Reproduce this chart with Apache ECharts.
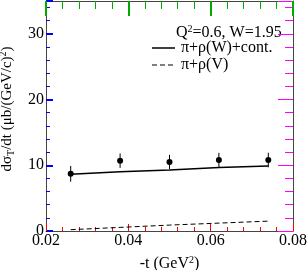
<!DOCTYPE html>
<html><head><meta charset="utf-8">
<script src="https://cdn.jsdelivr.net/npm/echarts@6/dist/echarts.min.js"></script>
<style>html,body{margin:0;padding:0;background:#fff}#c{width:307px;height:270px}</style>
</head><body><div id="c"></div>
<script>
const xTicks = [0.02, 0.04, 0.06, 0.08];
const yTicks = [0, 10, 20, 30];
const dataT = [0.026, 0.038, 0.050, 0.062, 0.074];
const dataY = [8.7, 10.7, 10.5, 10.8, 10.8];
const dataErr = [1.2, 1.1, 1.1, 1.1, 1.1];
const fullT = [0.026, 0.038, 0.050, 0.062, 0.074];
const fullY = [8.65, 9.0, 9.3, 9.65, 9.9];
const vecT = [0.026, 0.038, 0.050, 0.062, 0.074];
const vecY = [0.2, 0.55, 0.9, 1.2, 1.5];
const legendTitle = 'Q{s|2}=0.6, W=1.95';
const name1 = 'π+ρ(W)+cont.';
const name2 = 'π+ρ(V)';

const F = 'Liberation Serif';
const chart = echarts.init(document.getElementById('c'));
function axisCommon(c, L, w) {
  return {
    axisLine: {show: true, onZero: false, lineStyle: {color: '#444', width: 1}},
    axisTick: {show: true, inside: true, length: L, lineStyle: {color: c, width: w}},
    minorTick: {show: true, splitNumber: 5, length: Math.round(L / 2), lineStyle: {color: c, width: 1}},
    splitLine: {show: false}
  };
}
chart.setOption({
  grid: {left: 46, right: 14, top: 1, bottom: 39, outerBoundsMode: 'none'},
  xAxis: [
    Object.assign({type: 'value', min: xTicks[0], max: xTicks[3], interval: 0.02,
      axisLabel: {fontFamily: F, fontSize: 16, color: '#000', margin: 2},
      name: '-t (GeV{s|2})', nameLocation: 'middle', nameGap: 24,
      nameTextStyle: {fontFamily: F, fontSize: 16, color: '#000',
        rich: {s: {fontFamily: F, fontSize: 10, verticalAlign: 'top', padding: [0,0,8,0]}}}
    }, axisCommon('#f00', 7, 1)),
    Object.assign({type: 'value', min: xTicks[0], max: xTicks[3], interval: 0.02, position: 'top',
      axisLabel: {show: false}}, axisCommon('#0a0', 15, 2))
  ],
  yAxis: [
    Object.assign({type: 'value', min: 0, max: 35, interval: 10,
      axisLabel: {fontFamily: F, fontSize: 16, color: '#000', margin: 2, showMaxLabel: false},
      name: 'dσ{sub|T}/dt (μb/(GeV/c){s|2})', nameLocation: 'middle', nameGap: 30,
      nameTextStyle: {fontFamily: F, fontSize: 15, color: '#000', padding: [0, 0, 0, 14],
        rich: {sub: {fontFamily: F, fontSize: 10, verticalAlign: 'bottom', padding: [6,0,0,0]},
               s: {fontFamily: F, fontSize: 10, verticalAlign: 'top', padding: [0,0,8,0]}}}
    }, axisCommon('#00f', 7, 2)),
    Object.assign({type: 'value', min: 0, max: 35, interval: 10, position: 'right',
      axisLabel: {show: false}}, axisCommon('#f0f', 15, 1))
  ],
  series: [
    {type: 'line', name: name1, data: fullT.map((t, i) => [t, fullY[i]]), showSymbol: false,
      lineStyle: {color: '#000', width: 1.5}},
    {type: 'line', name: name2, data: vecT.map((t, i) => [t, vecY[i]]), showSymbol: false,
      lineStyle: {color: '#000', width: 1, type: [5, 3]}},
    {type: 'custom', data: dataT.map((t, i) => [t, dataY[i], dataErr[i]]),
      renderItem: (params, api) => {
        const x = api.value(0), y = api.value(1), e = api.value(2);
        const p = api.coord([x, y]);
        const lo = api.coord([x, y - e]);
        const hi = api.coord([x, y + e]);
        return {type: 'group', children: [
          {type: 'line', shape: {x1: lo[0], y1: lo[1], x2: hi[0], y2: hi[1]}, style: {stroke: '#000', lineWidth: 1}},
          {type: 'circle', shape: {cx: p[0], cy: p[1], r: 3}, style: {fill: '#000'}}
        ]};
      }}
  ],
  graphic: [
    {type: 'text', left: 176, top: 24, style: {text: legendTitle, fontFamily: F, fontSize: 16, fill: '#000',
      rich: {s: {fontFamily: F, fontSize: 10, verticalAlign: 'top', padding: [0,0,8,0]}}}},
    {type: 'line', shape: {x1: 152, y1: 48, x2: 175, y2: 48}, style: {stroke: '#000', lineWidth: 1.5}},
    {type: 'text', left: 181, top: 40, style: {text: name1, fontFamily: F, fontSize: 16, fill: '#000'}},
    {type: 'line', shape: {x1: 152, y1: 65, x2: 175, y2: 65}, style: {stroke: '#000', lineWidth: 1, lineDash: [5, 3]}},
    {type: 'text', left: 181, top: 57, style: {text: name2, fontFamily: F, fontSize: 16, fill: '#000'}}
  ]
});
</script></body></html>
